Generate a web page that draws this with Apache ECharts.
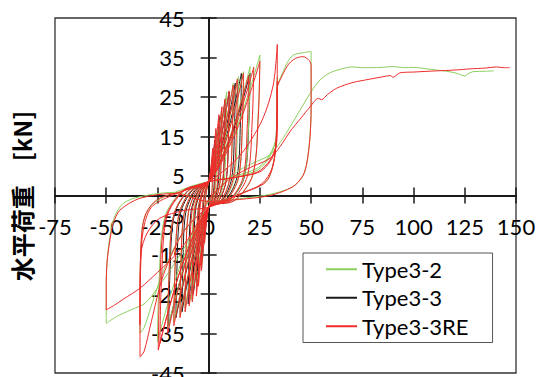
<!DOCTYPE html>
<html><head><meta charset="utf-8">
<script src="https://cdn.jsdelivr.net/npm/echarts@6.0.0/dist/echarts.min.js"></script>
<style>html,body{margin:0;padding:0;background:#fff}#c{width:536px;height:377px}</style>
</head><body><div id="c"></div>
<script>
const seriesNames = ['Type3-2', 'Type3-3', 'Type3-3RE'];
const xTickValues = [-75, -50, -25, 0, 25, 50, 75, 100, 125, 150];
const yTickValues = [-45, -35, -25, -15, -5, 5, 15, 25, 35, 45];
const yAxisTitle = '水平荷重　[kN]';

// Type3-2 (green): small cycles
const type32Small = [
[0,3.5],[1,6.35],[1.64,9.1],[2,11],[1.94,6.6],[1.72,1.65],[1,-1.3],[0,-3],[-1,-6],[-1.64,-9],[-2,-11],[-1.94,-6.6],[-1.72,-1.65],[-1,1.3],
[0,3.5],[2,8.5],[3.3,13.3],[4,16.6],[3.9,10],[3.44,2.5],[2,-1.3],[0,-3],[-1.75,-9.1],[-2.9,-15],[-3.5,-19],[-3.4,-11.4],[-3,-2.85],[-1.75,1.3],
[0,3.5],[3.15,10.5],[5.2,17.4],[6.3,22],[6.1,13.2],[5.4,3.3],[3.15,-1.3],[0,-3],[-3,-10.8],[-4.9,-18.4],[-6,-23.5],[-5.8,-14.1],[-5.2,-3.5],[-3,1.3],
[0,3.5],[4.4,12.2],[7.2,20.6],[8.8,26.3],[8.5,15.8],[7.6,3.9],[4.4,-1.3],[0,-3],[-4.25,-11.9],[-7,-20.6],[-8.5,-26.5],[-8.2,-15.9],[-7.3,-4],[-4.25,1.3],
[0,3.5],[6,13],[9.8,22.2],[12,28.4],[11.6,17],[10.3,4.3],[6,-1.3],[0,-3],[-5.75,-12.7],[-9.4,-22.1],[-11.5,-28.5],[-11.2,-17.1],[-9.9,-4.3],[-5.75,1.3],
[0,3.5],[7.25,13.6],[11.9,23.5],[14.5,30.1],[14.1,18.1],[12.5,4.5],[7.25,-1.3],[0,-3],[-7,-13.5],[-11.5,-23.6],[-14,-30.5],[-13.6,-18.3],[-12,-4.6],[-7,1.3],
[0,3.5],[8.5,14.1],[13.9,24.4],[17,31.4],[16.5,18.8],[14.6,4.7],[8.5,-1.3],[0,-3],[-8.5,-14],[-13.9,-24.8],[-17,-32],[-16.5,-19.2],[-14.6,-4.8],[-8.5,1.3],
[0,3.5],[10.1,14.6],[16.6,25.4],[20.2,32.7],[19.6,19.6],[17.4,4.9],[10.1,-1.3],[0,-3],[-10,-14.8],[-16.4,-26.3],[-20,-34],[-19.4,-20.4],[-17.2,-5.1],[-10,1.3],
[0,3.5],[12.5,15.7],[20.5,27.6],[25,35.6],[24.25,21.4],[21.5,5.3],[12.5,-1.3],[0,-3],[-12.5,-15.9],[-20.5,-28.5],[-25,-37],[-24.25,-22.2],[-21.5,-5.55],[-12.5,1.3]
];
// Type3-2: large cycles and final push
const type32Large = [
[0,3.5],[12,4.8],[24,7],[30,10.5],[33,15],[33.4,22],[33.5,30],[33.2,18],[32,9.5],[28,3.5],[16,0.6],[0,-3],[-12,-9],[-22,-19],[-28,-28],[-31.5,-33.5],[-33.5,-34.9],[-33.5,-25],[-33.2,-15],[-32,-7],[-28,-2.5],[-18,0.5],
[0,3.5],[12,4.5],[24,6.5],[30,10],[33,15],[33.3,27],[36,31],[38.5,33.8],[41.3,35.6],[46.2,36.2],[50,36.5],[50,22],[49.4,15],[48,8.5],[46,5],[41,2.2],[30,0.3],[15,-0.8],[0,-1.5],[-17,0.8],[-33.5,-0.3],[-41.7,-2],[-46,-5.5],[-48.2,-10.4],[-49.6,-17],[-50,-24],[-50,-32.4],[-45,-30.7],[-38,-29],[-31,-27.3],[-25,-23.5],[-17,-17.5],[-10,-11.5],[-5,-6.5],[0,-1.5],[8,3.5],[15.3,6.5],[22,8.3],[29.9,10.3],[35,13.5],[39.7,17.4],[45,22],[49.5,25.9],[53,28.5],[55.9,30],[60,31.3],[65.7,32.2],[70,32.6],[75,32.4],[78.7,32.4],[85,32.5],[90,32.7],[95,32.4],[100,32.5],[105,32.2],[111.3,31.8],[116,31.5],[121,31],[125.1,30.3],[127,31],[129.1,31.4],[135,31.5],[139.2,31.6]
];
// Type3-3 (black)
const type33Cycles = [
[0,3.5],[1.5,7.5],[2.5,11.4],[3,14],[2.9,8.4],[2.6,2.1],[1.5,-1.3],[0,-3],[-1.5,-7.9],[-2.5,-12.8],[-3,-16],[-2.9,-9.6],[-2.6,-2.4],[-1.5,1.3],
[0,3.5],[2.75,9.8],[4.5,15.9],[5.5,20],[5.3,12],[4.7,3],[2.75,-1.3],[0,-3],[-2.75,-10.2],[-4.5,-17.3],[-5.5,-22],[-5.3,-13.2],[-4.7,-3.3],[-2.75,1.3],
[0,3.5],[4,11.3],[6.6,18.9],[8,24],[7.8,14.4],[6.9,3.6],[4,-1.3],[0,-3],[-3.75,-11.4],[-6.15,-19.5],[-7.5,-25],[-7.3,-15],[-6.45,-3.75],[-3.75,1.3],
[0,3.5],[5,12.2],[8.2,20.6],[10,26.3],[9.7,15.8],[8.6,3.9],[5,-1.3],[0,-3],[-5,-12.3],[-8.2,-21.4],[-10,-27.5],[-9.7,-16.5],[-8.6,-4.1],[-5,1.3],
[0,3.5],[6.5,13],[10.7,22.3],[13,28.5],[12.6,17.1],[11.2,4.3],[6.5,-1.3],[0,-3],[-6.5,-13.1],[-10.7,-22.9],[-13,-29.5],[-12.6,-17.7],[-11.2,-4.4],[-6.5,1.3],
[0,3.5],[8,14],[13.1,24.1],[16,31],[15.5,18.6],[13.8,4.65],[8,-1.3],[0,-3],[-8,-13.6],[-13.1,-24],[-16,-31],[-15.5,-18.6],[-13.8,-4.65],[-8,1.3],
[0,3.5],[10.1,14],[16.6,24.1],[20.2,31],[19.6,18.6],[17.4,4.65],[10.1,-1.3],[0,-3],[-9.75,-14.4],[-16,-25.5],[-19.5,-33],[-18.9,-19.8],[-16.8,-5],[-9.75,1.3],[0,3.5]
];
// Type3-3RE (red): small cycles
const type33reSmall = [
[0,3.5],[1,6.7],[1.6,9.9],[2,12],[1.9,7.2],[1.7,1.8],[1,-1.3],[0,-3],[-1,-6.4],[-1.6,-9.8],[-2,-12],[-1.9,-7.2],[-1.7,-1.8],[-1,1.3],
[0,3.5],[1.75,8.6],[2.9,13.6],[3.5,17],[3.4,10.2],[3,2.6],[1.75,-1.3],[0,-3],[-1.75,-9.1],[-2.9,-15],[-3.5,-19],[-3.4,-11.4],[-3,-2.9],[-1.75,1.3],
[0,3.5],[2.5,10],[4.1,16.3],[5,20.5],[4.85,12.3],[4.3,3.1],[2.5,-1.3],[0,-3],[-2.5,-10.6],[-4.1,-18],[-5,-23],[-4.85,-13.8],[-4.3,-3.5],[-2.5,1.3],
[0,3.5],[3.25,10.7],[5.3,17.8],[6.5,22.5],[6.3,13.5],[5.6,3.4],[3.25,-1.3],[0,-3],[-3,-11.6],[-4.9,-19.9],[-6,-25.5],[-5.8,-15.3],[-5.2,-3.8],[-3,1.3],
[0,3.5],[4,11.5],[6.6,19.3],[8,24.5],[7.8,14.7],[6.9,3.7],[4,-1.3],[0,-3],[-4,-12.1],[-6.6,-21],[-8,-27],[-7.8,-16.2],[-6.9,-4],[-4,1.3],
[0,3.5],[5,12.2],[8.2,20.8],[10,26.5],[9.7,15.9],[8.6,4],[5,-1.3],[0,-3],[-4.75,-12.5],[-7.8,-21.8],[-9.5,-28],[-9.2,-16.8],[-8.2,-4.2],[-4.75,1.3],
[0,3.5],[6,12.8],[9.8,21.9],[12,28],[11.6,16.8],[10.3,4.2],[6,-1.3],[0,-3],[-5.75,-13.1],[-9.4,-22.9],[-11.5,-29.5],[-11.2,-17.7],[-9.9,-4.4],[-5.75,1.3],
[0,3.5],[7,13.4],[11.5,23],[14,29.5],[13.6,17.7],[12,4.4],[7,-1.3],[0,-3],[-7,-13.6],[-11.5,-24],[-14,-31],[-13.6,-18.6],[-12,-4.6],[-7,1.3],
[0,3.5],[8.5,14],[13.9,24.1],[17,31],[16.5,18.6],[14.6,4.6],[8.5,-1.3],[0,-3],[-8.5,-14.4],[-13.9,-25.5],[-17,-33],[-16.5,-19.8],[-14.6,-5],[-8.5,1.3],
[0,3.5],[9.75,13.8],[16,23.8],[19.5,30.5],[18.9,18.3],[16.8,4.6],[9.75,-1.3],[0,-3],[-10,-15.2],[-16.4,-27],[-20,-35],[-19.4,-21],[-17.2,-5.3],[-10,1.3],
[0,3.5],[11,14.5],[18,25.3],[22,32.5],[21.3,19.5],[18.9,4.9],[11,-1.3],[0,-3],[-11.9,-16.1],[-19.5,-28.9],[-23.8,-37.5],[-23.1,-22.5],[-20.5,-5.6],[-11.9,1.3],
[0,3.5],[12.5,15.1],[20.5,26.4],[25,34],[24.25,20.4],[21.5,5.1],[12.5,-1.3],[0,-3],[-12.3,-16.8],[-20.2,-30.2],[-24.6,-39.2],[-23.9,-23.5],[-21.2,-5.9],[-12.3,1.3]
];
// Type3-3RE: large cycles and final push
const type33reLarge = [
[0,3.5],[15,10],[26,19],[31.5,28],[33.5,38.3],[33.4,25],[33,14],[31,7],[26,3],[15,0.3],[0,-3],[-12,-9],[-22,-20],[-28,-32],[-31.5,-39.5],[-33.5,-40.9],[-33.5,-30],[-33.2,-18],[-32,-9],[-28,-3],[-18,0],
[0,3.5],[12,4.5],[24,6],[30,9],[33,13.3],[33.5,24],[33.5,29],[33.2,18],[32,9],[28,3.5],[16,0.5],[0,-3],[-12,-3.8],[-24,-5.8],[-30,-9.5],[-33,-14.5],[-33.5,-24],[-33.5,-32.8],[-33.4,-22],[-33,-12],[-31,-5],[-25,-1],[-12,1.2],
[0,3.5],[12,4.5],[25,6],[31,9.5],[33.3,14],[33.5,22],[33.4,27],[36,30.5],[39,33.3],[41.3,34.4],[43.5,35],[46.2,35.2],[48.6,34.5],[49.5,33.9],[50,33],[50,22],[49.5,15],[48,8.5],[46,5],[41,2.2],[30,0],[15,-1],[0,-1.5],[-17,0.5],[-33.5,-0.7],[-43.3,-3.7],[-46.5,-7],[-48.2,-11.3],[-49.6,-17],[-50,-23],[-50,-29],[-46,-27.8],[-41.7,-26.3],[-33.5,-23.5],[-25,-19.5],[-17,-15.5],[-10,-11],[-5,-6.5],[0,-1],[8,3.2],[15,5.7],[22,7.5],[29.9,9.4],[35,12.5],[39.7,16.2],[45,19.6],[49.5,22.5],[53.5,24.6],[55.1,24.3],[58,25.6],[62.5,27.2],[70,28.6],[78.7,29.5],[85,30.1],[88.5,30.4],[90.1,30],[93.4,31.1],[100,31.3],[111.3,31.6],[120,31.8],[127.5,32.1],[135,32.3],[140.5,32.6],[144,32.4],[147,32.4]
];

const seriesColors = ['#8ccf5f', '#1a1a1a', '#ef2b2b'];
const seriesZ = [3, 2, 4];
const seriesData = [type32Small.concat(type32Large), type33Cycles, type33reSmall.concat(type33reLarge)];

const G = {left: 55, top: 18, width: 461, height: 355};
const xMin = xTickValues[0], xMax = xTickValues[xTickValues.length - 1];
const yMin = yTickValues[0], yMax = yTickValues[yTickValues.length - 1];
// pixel position of the zero lines inside the grid (axes cross at 0,0)
const zeroX = G.left + G.width * (0 - xMin) / (xMax - xMin);
const zeroY = G.top + G.height * (yMax - 0) / (yMax - yMin);

const chart = echarts.init(document.getElementById('c'), null, {renderer: 'svg'});
const labelFont = {fontFamily: 'Lato', fontSize: 22, color: '#000'};
const axisLineStyle = {color: '#1a1a1a', width: 2};
const tickStyle = {color: '#1a1a1a', width: 1.5};

function xAx(pos, showLabel, offset) {
  return {
    type: 'value', position: pos, offset: offset,
    min: xMin, max: xMax, interval: xTickValues[1] - xTickValues[0],
    axisLine: {show: true, onZero: false, lineStyle: axisLineStyle},
    axisTick: {show: true, inside: false, length: 8, lineStyle: tickStyle},
    axisLabel: Object.assign({show: showLabel, margin: 20, showMinLabel: true, showMaxLabel: true, hideOverlap: false}, labelFont),
    splitLine: {show: false}
  };
}
function yAx(pos, showLabel, offset) {
  return {
    type: 'value', position: pos, offset: offset,
    min: yMin, max: yMax, interval: yTickValues[1] - yTickValues[0],
    axisLine: {show: true, onZero: false, lineStyle: axisLineStyle},
    axisTick: {show: true, inside: false, length: 8, lineStyle: tickStyle},
    axisLabel: Object.assign({show: showLabel, margin: 24, showMinLabel: true, showMaxLabel: true, hideOverlap: false}, labelFont),
    splitLine: {show: false}
  };
}

const option = {
  animation: false,
  backgroundColor: '#fff',
  grid: {left: G.left, top: G.top, width: G.width, height: G.height, show: true, borderColor: '#333', borderWidth: 1.3,
         backgroundColor: 'transparent', containLabel: false, outerBoundsMode: 'none'},
  xAxis: [xAx('bottom', true, zeroY - (G.top + G.height)), xAx('top', false, G.top - zeroY)],
  yAxis: [yAx('left', true, G.left - zeroX), yAx('right', false, zeroX - (G.left + G.width))],
  legend: {
    orient: 'vertical', left: 303, top: 253, padding: [2, 24, 2, 23], itemGap: 0,
    itemWidth: 31, itemHeight: 2, icon: 'rect',
    backgroundColor: '#fff', borderColor: '#555', borderWidth: 1, borderRadius: 0,
    textStyle: {fontFamily: 'Lato', fontSize: 22, color: '#000', lineHeight: 28.5},
    data: seriesNames
  },
  graphic: [{
    type: 'text', x: 21, y: 196, rotation: Math.PI / 2,
    style: {text: yAxisTitle, fontFamily: 'Noto Sans CJK JP', fontSize: 24, fontWeight: 'bold', fill: '#000',
            align: 'center', verticalAlign: 'middle'}
  }],
  series: seriesNames.map((n, i) => ({
    name: n, type: 'line', data: seriesData[i], showSymbol: false, symbol: 'none',
    smooth: 0.3, z: seriesZ[i],
    lineStyle: {width: 1, color: seriesColors[i]}, itemStyle: {color: seriesColors[i]}
  }))
};
chart.setOption(option);
</script>
</body></html>
